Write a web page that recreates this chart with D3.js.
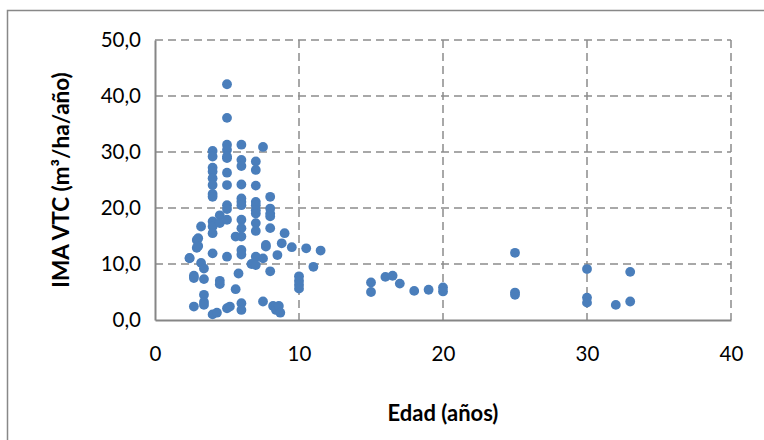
<!DOCTYPE html>
<html>
<head>
<meta charset="utf-8">
<script src="https://cdn.jsdelivr.net/npm/d3@7/dist/d3.min.js"></script>
<style>
  html, body { margin: 0; padding: 0; background: #fff; }
  svg { display: block; }
  text { font-family: Lato, "Open Sans", "Liberation Sans", sans-serif; fill: #000; }
</style>
</head>
<body>
<svg id="chart" width="764" height="440"></svg>
<script>
// ---- data ----
const edad = [
  2.4, 2.4,
  2.7, 2.7, 2.7,
  2.9, 2.9,
  3.0, 3.0,
  3.2, 3.2,
  3.4, 3.4, 3.4, 3.4, 3.4,
  4.0, 4.0, 4.0, 4.0, 4.0, 4.0, 4.0, 4.0, 4.0, 4.0, 4.0, 4.0, 4.0,
  4.3,
  4.5, 4.5, 4.5, 4.5,
  5.0, 5.0, 5.0, 5.0, 5.0, 5.0, 5.0, 5.0, 5.0, 5.0, 5.0, 5.0, 5.0,
  5.2,
  5.6, 5.6,
  5.8,
  6.0, 6.0, 6.0, 6.0, 6.0, 6.0, 6.0, 6.0, 6.0, 6.0, 6.0, 6.0, 6.0, 6.0,
  6.7,
  7.0, 7.0, 7.0, 7.0, 7.0, 7.0, 7.0, 7.0, 7.0, 7.0, 7.0,
  7.5, 7.5, 7.5,
  7.7, 7.7,
  8.0, 8.0, 8.0, 8.0, 8.0, 8.0,
  8.2, 8.4, 8.6, 8.7,
  8.5, 8.8, 9.0, 9.5,
  10.0, 10.0, 10.0, 10.0,
  10.5, 11.0, 11.5,
  15, 15, 16, 16.5, 17, 18, 19, 20, 20,
  25, 25, 25,
  30, 30, 30,
  32, 33, 33
];
const ima = [
  11.1, 11.0,
  7.9, 7.5, 2.4,
  14.3, 12.9,
  14.6, 13.2,
  16.7, 10.2,
  9.2, 7.3, 4.5, 3.2, 2.7,
  30.2, 29.2, 27.2, 26.5, 25.3, 24.1, 22.5, 22.0, 17.6, 16.7, 15.5, 11.9, 1.0,
  1.3,
  18.7, 17.3, 7.0, 6.4,
  42.1, 36.1, 31.3, 30.4, 29.2, 28.9, 26.3, 24.1, 20.5, 19.8, 17.9, 11.3, 2.1,
  2.4,
  14.9, 5.5,
  8.3,
  31.3, 28.6, 27.5, 24.2, 21.7, 21.1, 20.5, 17.9, 16.4, 14.9, 12.5, 11.7, 3.0, 1.8,
  10.0,
  28.3, 26.8, 24.0, 21.1, 20.5, 19.6, 19.0, 17.3, 15.9, 11.3, 9.8,
  30.9, 11.0, 3.3,
  13.4, 13.1,
  22.0, 19.9, 19.0, 18.5, 16.4, 8.7,
  2.5, 1.8, 2.5, 1.3,
  11.6, 13.7, 15.5, 13.0,
  7.8, 7.0, 6.3, 5.6,
  12.8, 9.5, 12.4,
  6.7, 5.0, 7.7, 7.9, 6.5, 5.2, 5.4, 5.8, 5.1,
  12.0, 4.9, 4.5,
  9.1, 4.0, 3.1,
  2.7, 8.6, 3.3
];
const xTicks = [0, 10, 20, 30, 40];
const yTicks = [0, 10, 20, 30, 40, 50];
const xTitle = "Edad (años)";
const yTitle = "IMA VTC (m³/ha/año)";

// ---- layout ----
const svg = d3.select("#chart");
const L = 155, R = 731, T = 40, B = 320;

const x = d3.scaleLinear().domain([0, 40]).range([L, R]);
const y = d3.scaleLinear().domain([0, 50]).range([B, T]);

// outer chart border
svg.append("rect")
  .attr("x", 7.5).attr("y", 10.5)
  .attr("width", 900).attr("height", 600)
  .attr("fill", "none").attr("stroke", "#888").attr("stroke-width", 1.5);

const fmt = d => d3.format(".1f")(d).replace(".", ",");

// horizontal gridlines
svg.append("g")
  .selectAll("line").data(yTicks.filter(d => d > 0)).join("line")
  .attr("x1", L).attr("x2", R)
  .attr("y1", d => y(d)).attr("y2", d => y(d))
  .attr("stroke", "#8c8c8c").attr("stroke-width", 1.5)
  .attr("stroke-dasharray", "8,5");

// vertical gridlines
svg.append("g")
  .selectAll("line").data(xTicks.filter(d => d > 0)).join("line")
  .attr("x1", d => x(d)).attr("x2", d => x(d))
  .attr("y1", T).attr("y2", B)
  .attr("stroke", "#8c8c8c").attr("stroke-width", 1.5)
  .attr("stroke-dasharray", "8,5");

// axes with d3 axis generators
const yAxis = d3.axisLeft(y).tickValues(yTicks).tickFormat(fmt).tickSize(0).tickPadding(14);
const gy = svg.append("g").attr("transform", `translate(${L},0)`).call(yAxis);
gy.select(".domain").attr("stroke", "#868686").attr("stroke-width", 2);
gy.selectAll("text").style("font-size", "20.5px").style("font-family", "Lato, 'Open Sans', sans-serif").attr("fill", "#000");

const xAxis = d3.axisBottom(x).tickValues(xTicks).tickFormat(d3.format("d")).tickSize(0).tickPadding(26);
const gx = svg.append("g").attr("transform", `translate(0,${B})`).call(xAxis);
gx.select(".domain").attr("stroke", "#868686").attr("stroke-width", 2);
gx.selectAll("text").style("font-size", "20.5px").style("font-family", "Lato, 'Open Sans', sans-serif").attr("fill", "#000");

// points
const pts = edad.map((e, i) => ({ e, v: ima[i] }));
svg.append("g")
  .selectAll("circle").data(pts).join("circle")
  .attr("cx", d => x(d.e)).attr("cy", d => y(d.v))
  .attr("r", 4.9)
  .attr("fill", "#4a7ebb");

// titles
svg.append("text")
  .attr("x", 443).attr("y", 421)
  .attr("text-anchor", "middle")
  .style("font-size", "22px").style("font-weight", "bold")
  .text(xTitle);

svg.append("text")
  .attr("transform", `translate(69,180) rotate(-90)`)
  .attr("text-anchor", "middle")
  .style("font-size", "22.5px").style("font-weight", "bold")
  .text(yTitle);
</script>
</body>
</html>
